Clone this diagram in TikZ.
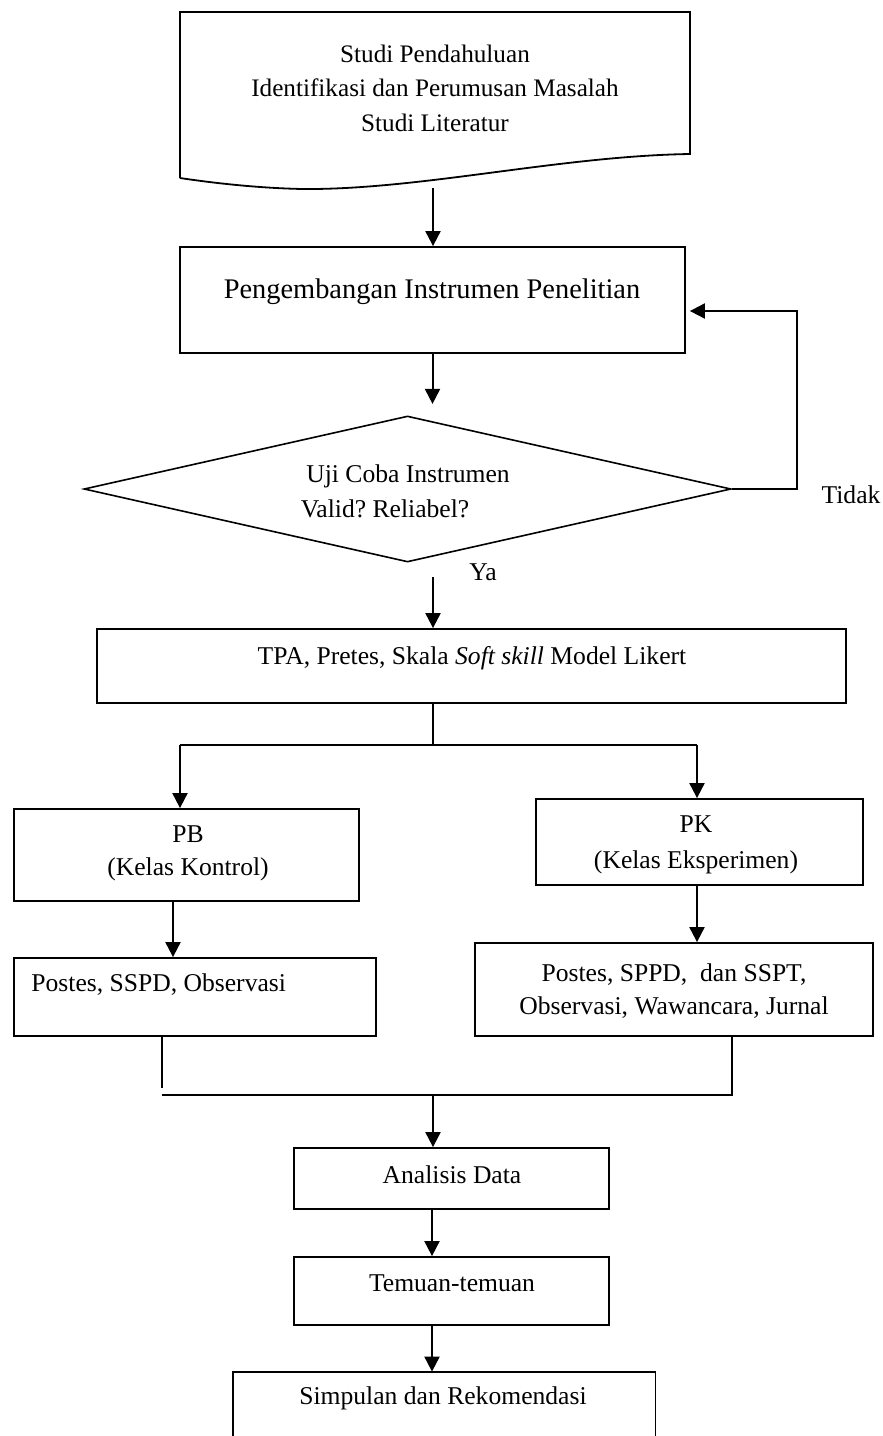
\documentclass[tikz,border=0pt]{standalone}
\usepackage{fontspec}
\setmainfont{Liberation Serif}
\usetikzlibrary{arrows.meta,calc,shapes.geometric}
\newcommand\myfs{\fontsize{12.8}{16.5}\selectfont}
\newcommand\mybig{\fontsize{14.2}{17}\selectfont}
\frenchspacing
\begin{document}
\begin{tikzpicture}[x=0.5pt,y=-0.5pt,
  box/.style={draw,line width=0.9pt,inner sep=0pt},
  txt/.style={inner sep=0pt,font=\myfs,align=center},
  arr/.style={line width=1pt,-{Triangle[width=7.5pt,length=7.5pt]}},
  ln/.style={line width=0.8pt}]
\useasboundingbox (0,0) rectangle (883,1436);

% document shape
\node[inner sep=0pt,minimum width=255pt,minimum height=83pt] (doc) at (435,95) {};
\draw[line width=0.9pt] (180,178) -- (180,12) -- (690,12) -- (690,154)
  .. controls (560,156) and (420,190) .. (303,189)
  .. controls (250,188) and (200,181) .. (180,178);
\node[txt,font=\fontsize{12.6}{17.3}\selectfont] (doctxt) at (435,88)
  {Studi Pendahuluan\\Identifikasi dan Perumusan Masalah\\Studi Literatur};

% boxes
\node[box,minimum width=252.5pt,minimum height=53pt] (box2) at (432.5,300) {};
\node[txt,font=\mybig] (box2t) at (432,292) {Pengembangan Instrumen Penelitian};

\node[draw,line width=0.8pt,shape=diamond,inner sep=0pt,minimum width=323.5pt,minimum height=73pt] (dia) at (407.5,489) {};
\node[txt] (diat1) at (408,476) {Uji Coba Instrumen};
\node[txt] (diat2) at (385,509) {Valid? Reliabel?};

\node[txt] (tidak) at (851,495) {Tidak};
\node[txt] (ya) at (483,572) {Ya};

\node[box,minimum width=374.5pt,minimum height=37pt] (box3) at (471.5,666) {};
\node[txt] (box3t) at (472,658) {TPA, Pretes, Skala \textit{Soft skill} Model Likert};

\node[box,minimum width=172.5pt,minimum height=46pt] (pb) at (186.5,855) {};
\node[txt] (pbt) at (188,853) {PB\\(Kelas Kontrol)};

\node[box,minimum width=163.5pt,minimum height=43pt] (pk) at (699.5,842) {};
\node[txt,font=\fontsize{12.8}{18}\selectfont] (pkt) at (696,845) {PK\\(Kelas Eksperimen)};

\node[box,minimum width=181pt,minimum height=39pt] (postL) at (195,997) {};
\node[txt,anchor=west] (postLt) at (31,985) {Postes, SSPD, Observasi};

\node[box,minimum width=199pt,minimum height=46.5pt] (postR) at (674,989.5) {};
\node[txt] (postRt) at (674,991) {Postes, SPPD,\ \ dan SSPT,\\Observasi, Wawancara, Jurnal};

\node[box,minimum width=157.5pt,minimum height=30.5pt] (anal) at (451.5,1178.5) {};
\node[txt] (analt) at (452,1175) {Analisis Data};

\node[box,minimum width=157.5pt,minimum height=34pt] (tem) at (451.5,1291) {};
\node[txt] (temt) at (452,1283) {Temuan-temuan};

\node[inner sep=0pt,minimum width=211pt,minimum height=32pt] (simp) at (444,1404) {};
\draw[line width=0.9pt] (simp.south west) |- (simp.north east) -- (simp.south east);
\node[txt] (simpt) at (443,1398) {Simpulan dan Rekomendasi};

% connectors
\coordinate (docb) at (433,188);
\draw[arr] (docb) -- (docb |- box2.north);
\draw[arr] (box2.south) -- ($(box2.south)+(0,50)$);

\coordinate (loop) at (797,311);
\draw[arr] (dia.east) -| (loop) -- ($(loop -| box2.east)+(4,0)$);

\coordinate (yaS) at (433,577);
\draw[arr] (yaS) -- (yaS |- box3.north);

\coordinate (br) at (433,745);
\coordinate (bl) at (180,745);
\coordinate (bRt) at (697,745);
\draw[ln] (br |- box3.south) -- (br);
\draw[ln] (bl) -- (bRt);
\draw[arr] (bl) -- (bl |- pb.north);
\draw[arr] (bRt) -- (bRt |- pk.north);

\coordinate (pbS) at (173,901);
\draw[arr] (pbS) -- (pbS |- postL.north);
\coordinate (pkS) at (697,885);
\draw[arr] (pkS) -- (pkS |- postR.north);

\coordinate (mL) at (162,1095);
\coordinate (mR) at (732,1095);
\coordinate (mC) at (433,1095);
\draw[ln] (mL |- postL.south) -- ($(mL)+(0,-7)$);
\draw[ln] (mR |- postR.south) -- (mR) -- (mL);
\draw[arr] (mC) -- (mC |- anal.north);

\coordinate (aS) at (432,1209);
\draw[arr] (aS) -- (aS |- tem.north);
\coordinate (tS) at (432,1325);
\draw[arr] (tS) -- (tS |- simp.north);
\end{tikzpicture}
\end{document}
